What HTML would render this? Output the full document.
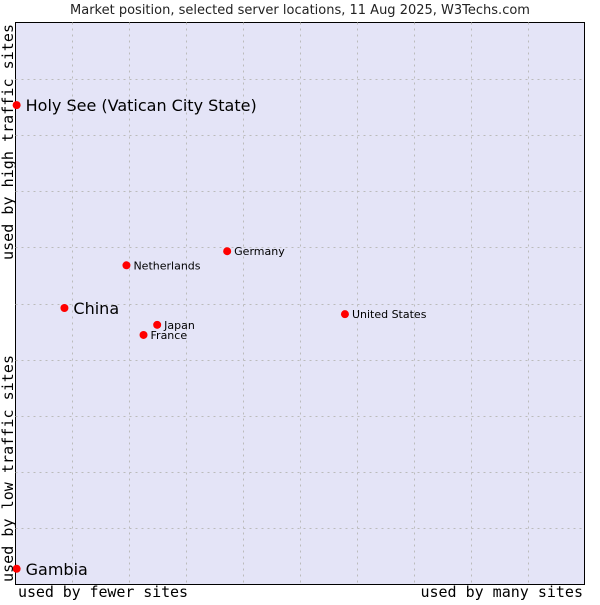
<!DOCTYPE html>
<html><head><meta charset="utf-8"><style>
body{margin:0;background:#fff;width:600px;height:600px;overflow:hidden}
svg text{font-family:"DejaVu Sans","Liberation Sans",sans-serif}
.mono{font-family:"DejaVu Sans Mono","Liberation Mono",monospace}
</style></head><body>
<svg id="chart" width="600" height="600">
<text x="300" y="14" text-anchor="middle" font-size="13" fill="#222">Market position, selected server locations, 11 Aug 2025, W3Techs.com</text>
<rect x="15.5" y="22.5" width="569" height="562" fill="#e4e4f7" stroke="#000" stroke-width="1"/>
<g id="grid"></g>
<g id="points"></g>
<text class="mono" x="18" y="597" font-size="15" textLength="170" fill="#000">used by fewer sites</text>
<text class="mono" x="583" y="597" font-size="15" text-anchor="end" fill="#000">used by many sites</text>
<text class="mono" transform="translate(13,582) rotate(-90)" font-size="15" textLength="227" fill="#000">used by low traffic sites</text>
<text class="mono" transform="translate(13,260) rotate(-90)" font-size="15" textLength="236" fill="#000">used by high traffic sites</text>
</svg>
<script>
const names=["Holy See (Vatican City State)","China","Gambia","Netherlands","Germany","Japan","France","United States"];
const xVals=[0.2,8.6,0.2,19.5,37.2,24.9,22.5,57.9];
const yVals=[85.3,49.2,2.8,56.8,59.3,46.2,44.4,48.1];
const bigLabel=[true,true,true,false,false,false,false,false];
const L=15.5,R=584.5,T=22.5,B=584.5;
function sx(v){return L+v/100*(R-L);}
function sy(v){return B-v/100*(B-T);}
const NS="http://www.w3.org/2000/svg";
const g=document.getElementById('grid');
for(let i=1;i<10;i++){
 const v=document.createElementNS(NS,'line');
 const x=Math.round(sx(i*10))+0.5;
 v.setAttribute('x1',x);v.setAttribute('x2',x);v.setAttribute('y1',T);v.setAttribute('y2',B);
 v.setAttribute('stroke','#bbb');v.setAttribute('stroke-dasharray','2,4');
 
 
 g.appendChild(v);
 const h=document.createElementNS(NS,'line');
 const y=Math.round(sy(i*10))+0.5;
 h.setAttribute('x1',L);h.setAttribute('x2',R);h.setAttribute('y1',y);h.setAttribute('y2',y);
 h.setAttribute('stroke','#bbb');h.setAttribute('stroke-dasharray','2,4');
 
 
 g.appendChild(h);
}
const p=document.getElementById('points');
names.forEach((n,i)=>{
 const x=sx(xVals[i]),y=sy(yVals[i]);
 const d=document.createElementNS(NS,'circle');
 d.setAttribute('cx',x);d.setAttribute('cy',y);d.setAttribute('r',4);
 d.setAttribute('fill','#f00');
 
 
 p.appendChild(d);
 const t=document.createElementNS(NS,'text');
 t.setAttribute('x',x+(bigLabel[i]?9:7));
 t.setAttribute('y',y+(bigLabel[i]?6:4));
 t.setAttribute('font-size',bigLabel[i]?16:11);
 t.setAttribute('fill','#000');
 t.textContent=n;
 
 
 p.appendChild(t);
});
</script>
</body></html>
